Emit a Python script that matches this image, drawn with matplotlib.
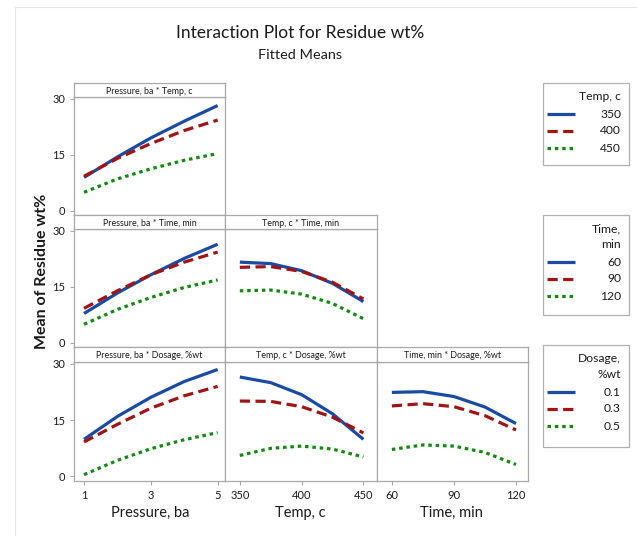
"""Interaction plot for residue wt% (fitted means), Minitab-style panel grid."""
import matplotlib

matplotlib.use("Agg")
import matplotlib.pyplot as plt

# factor levels where the fitted means were read
pressure = [1, 2, 3, 4, 5]
temp = [350, 375, 400, 425, 450]
time_min = [60, 75, 90, 105, 120]

# Pressure * Temp  (Temp = 350, 400, 450)
pt_350 = [8.9, 14.4, 19.5, 24.0, 28.2]
pt_400 = [9.2, 14.0, 18.0, 21.5, 24.3]
pt_450 = [4.9, 8.5, 11.2, 13.5, 15.3]

# Pressure * Time  (Time = 60, 90, 120)
pm_60 = [7.8, 13.3, 18.2, 22.6, 26.4]
pm_90 = [9.2, 13.9, 18.2, 21.6, 24.3]
pm_120 = [4.9, 8.9, 12.1, 14.8, 16.8]

# Pressure * Dosage  (Dosage = 0.1, 0.3, 0.5)
pd_01 = [9.9, 16.0, 21.1, 25.3, 28.5]
pd_03 = [9.2, 13.9, 18.2, 21.5, 24.0]
pd_05 = [0.5, 4.3, 7.4, 9.8, 11.7]

# Temp * Time
tm_60 = [21.6, 21.2, 19.3, 15.9, 11.0]
tm_90 = [20.2, 20.4, 19.1, 16.2, 11.7]
tm_120 = [13.9, 14.1, 13.0, 10.5, 6.4]

# Temp * Dosage
td_01 = [26.5, 25.0, 21.8, 16.7, 9.9]
td_03 = [20.1, 20.0, 18.6, 15.8, 11.6]
td_05 = [5.6, 7.5, 8.1, 7.3, 5.2]

# Time * Dosage
dm_01 = [22.4, 22.6, 21.3, 18.5, 14.1]
dm_03 = [18.8, 19.4, 18.6, 16.2, 12.4]
dm_05 = [7.2, 8.4, 8.1, 6.4, 3.2]

temp_levels = ["350", "400", "450"]
time_levels = ["60", "90", "120"]
dosage_levels = ["0.1", "0.3", "0.5"]

W, H = 637, 536
FRAME = "#a8a8a8"
TXT = "#1a1a1a"
STYLES = [
    dict(color="#1b4aa3", lw=2.3, ls="-"),
    dict(color="#a01414", lw=2.3, ls=(0, (3.2, 1.7))),
    dict(color="#128a12", lw=2.3, ls=(0, (1.1, 1.2))),
]

plt.rcParams.update({"font.family": ["Lato", "DejaVu Sans"], "text.color": TXT})


def rect(x0, y0, x1, y1):
    return [x0 / W, 1 - y1 / H, (x1 - x0) / W, (y1 - y0) / H]


cols = [(74, 225), (225, 377), (377, 528)]
rows = [(83, 97, 215), (215, 229, 347), (347, 362, 481)]
xinfo = [
    (pressure, (0.7, 5.22), [1, 3, 5]),
    (temp, (338, 461), [350, 400, 450]),
    (time_min, (52.8, 125.8), [60, 90, 120]),
]

panels = {
    (0, 0): ("Pressure, ba * Temp, c", [pt_350, pt_400, pt_450]),
    (1, 0): ("Pressure, ba * Time, min", [pm_60, pm_90, pm_120]),
    (2, 0): ("Pressure, ba * Dosage, %wt", [pd_01, pd_03, pd_05]),
    (1, 1): ("Temp, c * Time, min", [tm_60, tm_90, tm_120]),
    (2, 1): ("Temp, c * Dosage, %wt", [td_01, td_03, td_05]),
    (2, 2): ("Time, min * Dosage, %wt", [dm_01, dm_03, dm_05]),
}

fig = plt.figure(figsize=(W / 100, H / 100), dpi=100)

for (r, c), (strip, series) in panels.items():
    x0, x1 = cols[c]
    s0, p0, p1 = rows[r]
    xs, xlim, xticks = xinfo[c]
    ax = fig.add_axes(rect(x0, p0, x1, p1))
    for ys, st in zip(series, STYLES):
        ax.plot(xs, ys, solid_capstyle="butt", dash_capstyle="butt",
                solid_joinstyle="round", **st)
    ax.set_xlim(*xlim)
    ax.set_ylim(-1.2, 30.5)
    ax.set_yticks([0, 15, 30])
    ax.set_xticks(xticks)
    for sp in ax.spines.values():
        sp.set_color(FRAME)
        sp.set_linewidth(0.9)
    ax.tick_params(colors=FRAME, labelcolor=TXT, labelsize=8, length=3, width=0.8)
    if c != 0:
        ax.tick_params(axis="y", left=False, labelleft=False)
    if r != 2:
        ax.tick_params(axis="x", bottom=False, labelbottom=False)

    sax = fig.add_axes(rect(x0, s0, x1, p0))
    sax.set_xticks([])
    sax.set_yticks([])
    for sp in sax.spines.values():
        sp.set_color(FRAME)
        sp.set_linewidth(0.9)
    sax.text(0.5, 0.42, strip, ha="center", va="center", fontsize=6.4,
             transform=sax.transAxes)

# overlay in pixel coordinates for titles and legends
ov = fig.add_axes([0, 0, 1, 1], zorder=-1)
ov.set_xlim(0, W)
ov.set_ylim(H, 0)
ov.axis("off")

ov.plot([15, W], [7, 7], color="#e4e4e4", lw=0.8)
ov.plot([15, 15], [7, H], color="#e4e4e4", lw=0.8)

ov.text(300, 33, "Interaction Plot for Residue wt%", ha="center", va="center", fontsize=12.5)
ov.text(300, 55, "Fitted Means", ha="center", va="center", fontsize=10.4)
ov.text(42, 271, "Mean of Residue wt%", ha="center", va="center", rotation=90,
        fontsize=11.5, fontweight="bold")
for cx, lab in zip([150, 300, 451], ["Pressure, ba", "Temp, c", "Time, min"]):
    ov.text(cx, 513, lab, ha="center", va="center", fontsize=10.5)

legends = [
    ((83, 165), ["Temp, c"], temp_levels),
    ((215, 315), ["Time,", "min"], time_levels),
    ((345, 447), ["Dosage,", "%wt"], dosage_levels),
]
lov = fig.add_axes([0, 0, 1, 1], zorder=5)
lov.set_xlim(0, W)
lov.set_ylim(H, 0)
lov.axis("off")
for (top, bot), title, levels in legends:
    lov.add_patch(plt.Rectangle((543, top), 86, bot - top, fill=False,
                                edgecolor="#b0b0b0", lw=0.9))
    y = top + 14
    for t in title:
        lov.text(621, y, t, ha="right", va="center", fontsize=8.7)
        y += 16
    y += 1
    for lev, st in zip(levels, STYLES):
        lov.plot([547, 575], [y, y], solid_capstyle="butt", dash_capstyle="butt", **st)
        lov.text(621, y, lev, ha="right", va="center", fontsize=8.7)
        y += 17

fig.savefig("out.png", dpi=100)
